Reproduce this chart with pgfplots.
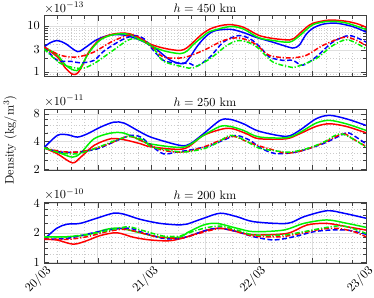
\documentclass[border=0pt]{standalone}
\usepackage{pgfplots}
\pgfplotsset{compat=1.18}
\definecolor{mblue}{rgb}{0,0,1}
\definecolor{mred}{rgb}{1,0,0}
\definecolor{mgreen}{rgb}{0,0.95,0}
\pgfplotsset{
 mypanel/.style={scale only axis, width=261.8pt, height=49.6pt, xmin=0, xmax=3,
  xtick={0,0.5,1,1.5,2,2.5,3}, minor x tick num=3,
  grid=both, major grid style={gray!25, line width=0.4pt}, minor grid style={gray!40, dotted, line width=0.4pt},
  tick align=inside, axis line style={gray!50!black, line width=0.5pt}, tick style={gray!50!black},
  clip mode=individual},
 bs/.style={mblue, line width=1.2pt, smooth},
 rs/.style={mred, line width=1.2pt, smooth},
 gs/.style={mgreen, line width=1.2pt, smooth},
 bd/.style={mblue, line width=1.2pt, smooth, dash pattern=on 4pt off 2pt},
 rd/.style={mred, line width=1.2pt, smooth, dash pattern=on 4pt off 1.5pt on 1pt off 1.5pt},
 gd/.style={mgreen, line width=1.2pt, smooth, dash pattern=on 4pt off 1.5pt on 1pt off 1.5pt},
}
\begin{document}
\begin{tikzpicture}
\useasboundingbox (-35.8pt,12.8pt) rectangle (268.3pt,-228.7pt);
% ---------------- h = 450 km
\begin{axis}[mypanel, ymode=log, at={(0,0)}, anchor=north west, ymin=0.78, ymax=16.5,
  ytick={1,3,10}, yticklabels={1,3,10}, minor ytick={0.8,0.9,2,4,5,6,7,8,9},
  xticklabels={}]
\addplot[bs] coordinates {(0,3.45)(0.06,4.3)(0.124,4.78)(0.2,4.1)(0.31,2.75)(0.38,3.3)(0.466,4.6)(0.55,5.7)(0.622,6.3)(0.7,6.4)(0.776,6.1)(0.901,4.8)(1.025,3.4)(1.174,1.8)(1.298,1.5)(1.361,2.1)(1.42,3.4)(1.485,5.2)(1.55,7.0)(1.61,8.0)(1.733,8.4)(1.811,7.7)(1.889,6.7)(1.976,5.6)(2.131,4.4)(2.286,3.4)(2.33,3.3)(2.379,3.8)(2.442,6.5)(2.504,8.8)(2.597,10.8)(2.721,11.4)(2.876,9.6)(3.0,7.3)};
\addplot[rs] coordinates {(0,3.45)(0.124,2.1)(0.2,1.2)(0.264,0.89)(0.31,0.92)(0.36,1.4)(0.404,2.4)(0.466,3.8)(0.528,5.2)(0.62,6.4)(0.715,6.9)(0.808,6.6)(0.932,4.8)(1.0,3.9)(1.13,3.2)(1.267,2.9)(1.33,3.3)(1.391,4.4)(1.47,6.5)(1.547,8.5)(1.64,10.0)(1.733,10.6)(1.857,9.3)(2.0,6.2)(2.131,5.3)(2.286,4.9)(2.33,5.3)(2.379,6.7)(2.44,9.0)(2.504,11.3)(2.659,13.3)(2.815,12.5)(2.92,11)(3.0,9.3)};
\addplot[gs] coordinates {(0,3.45)(0.124,2.3)(0.2,1.4)(0.28,1.08)(0.33,1.15)(0.404,2.3)(0.466,3.6)(0.528,5.0)(0.62,6.2)(0.715,6.7)(0.808,6.3)(0.932,4.5)(1.0,3.6)(1.13,2.8)(1.267,2.48)(1.33,2.8)(1.391,3.9)(1.47,5.6)(1.547,7.5)(1.733,9.6)(1.857,8.5)(2.0,5.5)(2.131,4.8)(2.286,4.4)(2.379,6.0)(2.504,10.5)(2.659,12.5)(2.815,11.5)(3.0,8.3)};
\addplot[bd] coordinates {(0,3.45)(0.124,1.77)(0.249,1.69)(0.342,1.56)(0.466,1.77)(0.559,2.83)(0.715,4.78)(0.839,6.12)(0.932,5.2)(1.0,3.3)(1.112,1.77)(1.237,1.56)(1.361,1.51)(1.423,1.32)(1.547,2.1)(1.671,4.42)(1.811,6.12)(1.92,5.2)(2.013,3.45)(2.1,2.1)(2.225,1.77)(2.318,1.77)(2.411,1.39)(2.535,2.1)(2.691,4.42)(2.845,6.12)(3.0,4.42)};
\addplot[rd] coordinates {(0,3.45)(0.156,2.27)(0.31,2.1)(0.466,2.69)(0.622,4.4)(0.776,6.12)(0.87,5.83)(1.0,3.6)(1.112,2.1)(1.298,2.03)(1.485,2.91)(1.671,4.78)(1.811,5.46)(1.93,4.5)(2.0,3.5)(2.1,2.27)(2.286,2.0)(2.442,2.27)(2.597,3.73)(2.815,5.66)(3.0,3.73)};
\addplot[gd] coordinates {(0,3.17)(0.156,1.51)(0.342,1.18)(0.466,1.51)(0.622,2.69)(0.776,4.78)(0.855,5.2)(0.96,4.3)(1.025,3.17)(1.112,1.7)(1.298,1.28)(1.391,1.22)(1.547,1.93)(1.703,3.73)(1.811,4.78)(1.92,4.2)(2.0,3.2)(2.131,1.64)(2.286,1.28)(2.35,1.28)(2.535,1.93)(2.691,3.73)(2.83,4.95)(3.0,3.17)};
\node[anchor=base west, inner sep=0pt, yshift=3pt] at (rel axis cs:0,1) {$\times10^{-13}$};
\node[anchor=base, inner sep=0pt, yshift=2.5pt] at (rel axis cs:0.5,1) {$h = 450$ km};
\end{axis}
% ---------------- h = 250 km
\begin{axis}[mypanel, ymode=log, at={(0,-75.9pt)}, anchor=north west, ymin=1.95, ymax=9.06,
  ytick={2,4,8}, yticklabels={2,4,8}, minor ytick={2.5,3,3.5,5,6,7,9},
  xticklabels={}]
\addplot[bs] coordinates {(0,3.42)(0.124,4.67)(0.217,4.75)(0.311,4.48)(0.404,4.86)(0.528,5.77)(0.652,6.53)(0.745,6.37)(0.87,5.3)(1.0,4.45)(1.268,3.63)(1.361,3.78)(1.485,4.86)(1.64,6.82)(1.733,7.0)(1.858,6.26)(2.0,5.2)(2.256,4.56)(2.38,5.3)(2.535,7.1)(2.659,7.74)(2.815,7.1)(3.0,6.01)};
\addplot[rs] coordinates {(0,3.42)(0.124,2.94)(0.264,2.34)(0.342,2.7)(0.466,3.63)(0.621,4.29)(0.745,4.19)(0.901,3.78)(1.0,3.5)(1.3,3.33)(1.485,4.67)(1.671,5.52)(1.764,5.5)(1.889,4.86)(2.0,4.3)(2.256,4.29)(2.38,4.86)(2.535,5.86)(2.659,6.26)(2.815,5.86)(3.0,4.99)};
\addplot[gs] coordinates {(0,3.42)(0.124,3.07)(0.264,2.7)(0.342,3.0)(0.466,4.29)(0.621,4.95)(0.745,4.95)(0.901,4.12)(1.0,3.75)(1.3,3.48)(1.485,4.67)(1.64,5.86)(1.733,5.86)(1.858,5.3)(2.0,4.5)(2.256,4.4)(2.38,5.0)(2.535,6.37)(2.659,6.82)(2.815,6.26)(3.0,5.3)};
\addplot[bd] coordinates {(0,3.42)(0.155,3.07)(0.311,3.07)(0.497,3.33)(0.683,4.12)(0.807,4.67)(0.901,4.48)(1.0,3.6)(1.112,2.94)(1.237,3.07)(1.4,3.3)(1.547,3.63)(1.702,4.29)(1.795,4.67)(1.92,4.12)(2.0,3.5)(2.1,3.07)(2.162,2.94)(2.35,3.07)(2.597,3.78)(2.783,4.79)(2.845,4.95)(3.0,3.78)};
\addplot[rd] coordinates {(0,3.42)(0.155,3.12)(0.311,3.07)(0.466,3.33)(0.621,3.85)(0.776,4.56)(0.87,4.29)(1.0,3.6)(1.112,3.2)(1.3,3.07)(1.485,3.48)(1.64,4.12)(1.764,4.56)(1.889,4.0)(2.0,3.6)(2.1,3.33)(2.256,2.99)(2.411,3.2)(2.597,3.85)(2.783,4.86)(2.876,4.29)(3.0,3.54)};
\addplot[gd] coordinates {(0,3.42)(0.155,3.0)(0.311,2.94)(0.466,3.33)(0.683,4.19)(0.807,4.56)(0.932,4.12)(1.0,3.5)(1.174,3.2)(1.3,3.07)(1.485,3.33)(1.61,3.85)(1.733,4.67)(1.858,4.2)(2.0,3.4)(2.131,3.2)(2.286,3.07)(2.442,3.33)(2.597,3.9)(2.752,4.86)(2.876,4.29)(3.0,3.48)};
\node[anchor=base west, inner sep=0pt, yshift=3pt] at (rel axis cs:0,1) {$\times10^{-11}$};
\node[anchor=base, inner sep=0pt, yshift=2.5pt] at (rel axis cs:0.5,1) {$h = 250$ km};
\end{axis}
% ---------------- h = 200 km
\begin{axis}[mypanel, ymode=log, at={(0,-151.7pt)}, anchor=north west, ymin=0.977, ymax=4.08,
  ytick={1,2,4}, yticklabels={1,2,4}, minor ytick={1.2,1.4,1.6,1.8,2.5,3,3.5},
  xticklabels={20/03,,21/03,,22/03,,23/03},
  xticklabel style={rotate=45, anchor=north east, inner sep=1pt, xshift=1pt}]
\addplot[bs] coordinates {(0,1.71)(0.118,2.22)(0.212,2.44)(0.336,2.49)(0.491,2.81)(0.646,3.16)(0.739,3.1)(0.895,2.74)(1.081,2.49)(1.267,2.4)(1.333,2.45)(1.488,2.81)(1.643,3.16)(1.799,2.91)(1.954,2.59)(2.265,2.49)(2.42,2.91)(2.637,3.35)(2.793,3.16)(3.0,2.81)};
\addplot[rs] coordinates {(0,1.71)(0.118,1.69)(0.273,1.53)(0.398,1.66)(0.522,1.87)(0.678,2.0)(0.832,1.8)(0.988,1.69)(1.174,1.66)(1.333,1.82)(1.519,2.13)(1.643,2.22)(1.799,2.05)(1.954,1.9)(2.265,1.97)(2.451,2.4)(2.637,2.49)(2.824,2.3)(3.0,2.13)};
\addplot[gs] coordinates {(0,1.82)(0.212,1.82)(0.398,1.9)(0.584,2.17)(0.708,2.22)(0.895,2.0)(1.081,1.8)(1.267,1.8)(1.333,2.0)(1.488,2.4)(1.612,2.49)(1.799,2.22)(1.954,2.05)(2.234,2.13)(2.42,2.49)(2.637,2.7)(2.824,2.49)(3.0,2.27)};
\addplot[bd] coordinates {(0,1.73)(0.212,1.75)(0.459,2.0)(0.646,2.17)(0.801,2.22)(0.925,2.0)(1.112,1.75)(1.267,1.75)(1.333,1.82)(1.519,2.13)(1.643,2.22)(1.799,2.05)(1.954,1.82)(2.141,1.69)(2.327,1.82)(2.514,2.05)(2.668,2.13)(2.824,2.13)(3.0,1.93)};
\addplot[rd] coordinates {(0,1.73)(0.212,1.71)(0.398,1.82)(0.584,2.05)(0.739,2.17)(0.864,2.05)(1.05,1.82)(1.267,1.75)(1.333,1.82)(1.643,2.22)(1.799,2.05)(1.954,1.85)(2.202,1.82)(2.42,2.0)(2.575,2.17)(2.731,2.22)(2.886,2.05)(3.0,1.82)};
\addplot[gd] coordinates {(0,1.82)(0.212,1.82)(0.459,1.97)(0.646,2.17)(0.786,2.3)(0.925,2.1)(1.112,1.85)(1.267,1.85)(1.333,1.97)(1.488,2.22)(1.643,2.34)(1.799,2.13)(1.954,1.9)(2.234,1.9)(2.42,2.05)(2.637,2.27)(2.793,2.34)(3.0,1.97)};
\node[anchor=base west, inner sep=0pt, yshift=3pt] at (rel axis cs:0,1) {$\times10^{-10}$};
\node[anchor=base, inner sep=0pt, yshift=2.5pt] at (rel axis cs:0.5,1) {$h = 200$ km};
\end{axis}
\node[rotate=90] at (-27.6pt,-101pt) {Density (kg/m$^3$)};
\end{tikzpicture}
\end{document}
